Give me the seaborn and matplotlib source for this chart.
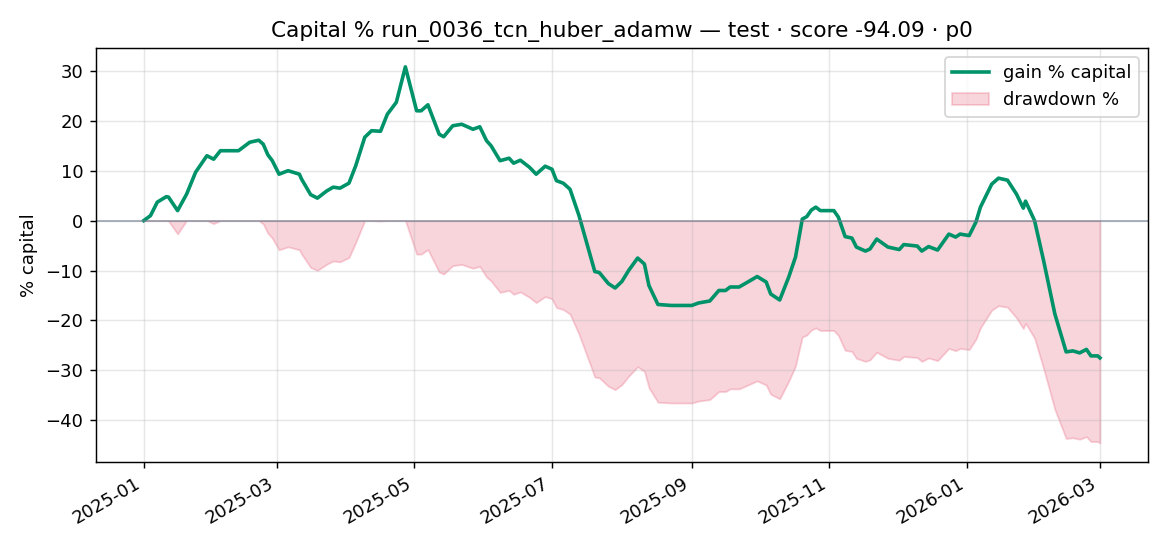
import numpy as np
import pandas as pd
import matplotlib
matplotlib.use("Agg")
import matplotlib.pyplot as plt
import matplotlib.dates as mdates
import seaborn as sns

# days since 2025-01-01 and gain % capital
dias = [0, 3, 6, 10, 11, 15, 19, 23, 28, 31, 34, 42, 47, 51, 53, 55, 57, 60, 64, 69,
        70, 74, 77, 81, 84, 87, 91, 94, 98, 101, 105, 108, 112, 116, 121, 123, 126, 131, 133, 137,
        141, 146, 149, 152, 154, 158, 162, 164, 167, 171, 174, 178, 181, 183, 186, 189, 193, 196, 200, 202,
        206, 209, 212, 215, 219, 222, 224, 228, 234, 243, 246, 251, 255, 258, 260, 264, 269, 272, 276, 278,
        282, 286, 289, 292, 294, 296, 298, 300, 306, 308, 311, 314, 316, 320, 322, 325, 330, 335, 337, 343,
        345, 348, 352, 357, 360, 362, 366, 369, 371, 376, 379, 383, 387, 390, 391, 395, 399, 404, 409, 412,
        415, 418, 420, 423, 424]
gain = [0.0, 1.0, 3.7, 4.8, 4.7, 2.0, 5.3, 9.7, 13.0, 12.3, 14.0, 14.0, 15.7, 16.1, 15.3, 13.2, 12.0, 9.3, 10.0, 9.3,
        8.3, 5.2, 4.5, 5.9, 6.7, 6.5, 7.5, 11.0, 16.7, 18.0, 17.9, 21.3, 23.7, 30.8, 22.0, 22.0, 23.2, 17.3, 16.8, 19.0,
        19.3, 18.3, 18.8, 16.0, 15.0, 12.0, 12.5, 11.5, 12.1, 10.7, 9.3, 10.9, 10.3, 8.0, 7.5, 6.3, 1.0, -3.8, -10.2, -10.4,
        -12.6, -13.5, -12.2, -10.0, -7.5, -8.7, -13.0, -16.8, -17.0, -17.0, -16.5, -16.1, -14.0, -14.0, -13.3, -13.3, -12.0, -11.2, -12.3, -14.7,
        -15.9, -11.3, -7.3, 0.3, 0.8, 2.1, 2.7, 2.0, 2.0, 0.7, -3.2, -3.5, -5.3, -6.1, -5.7, -3.7, -5.3, -5.8, -4.8, -5.1,
        -6.1, -5.2, -5.9, -2.7, -3.3, -2.7, -3.0, -0.3, 2.7, 7.3, 8.5, 8.1, 5.3, 2.5, 3.9, 0.0, -8.0, -18.7, -26.3, -26.1,
        -26.5, -25.8, -27.1, -27.1, -27.5]

titulo = "Capital % run_0036_tcn_huber_adamw — test · score -94.09 · p0"

df = pd.DataFrame({"fecha": pd.Timestamp("2025-01-01") + pd.to_timedelta(dias, unit="D"),
                   "gain": gain})
# drawdown relativo al maximo acumulado del capital
capital = 1 + df["gain"] / 100
pico = np.maximum(capital.cummax(), 1.0)
df["dd"] = (capital / pico - 1) * 100

fig, ax = plt.subplots(figsize=(9, 4.2), dpi=130)
sns.lineplot(data=df, x="fecha", y="gain", color="#00936a", linewidth=2,
             label="gain % capital", ax=ax)
ax.fill_between(df["fecha"], df["dd"], 0, color="crimson", alpha=0.18,
                label="drawdown %")
ax.axhline(0, color="slategray", linewidth=0.9, alpha=0.7)
ax.grid(True, alpha=0.3)
ax.set_title(titulo, fontsize=12)
ax.set_xlabel("")
ax.set_ylabel("% capital")
ax.xaxis.set_major_locator(mdates.MonthLocator(bymonth=[1, 3, 5, 7, 9, 11]))
ax.xaxis.set_major_formatter(mdates.DateFormatter("%Y-%m"))
ax.legend(loc="upper right")
fig.autofmt_xdate()
fig.subplots_adjust(left=0.082, right=0.981, top=0.912, bottom=0.154)
fig.savefig("out.png", dpi=130)
